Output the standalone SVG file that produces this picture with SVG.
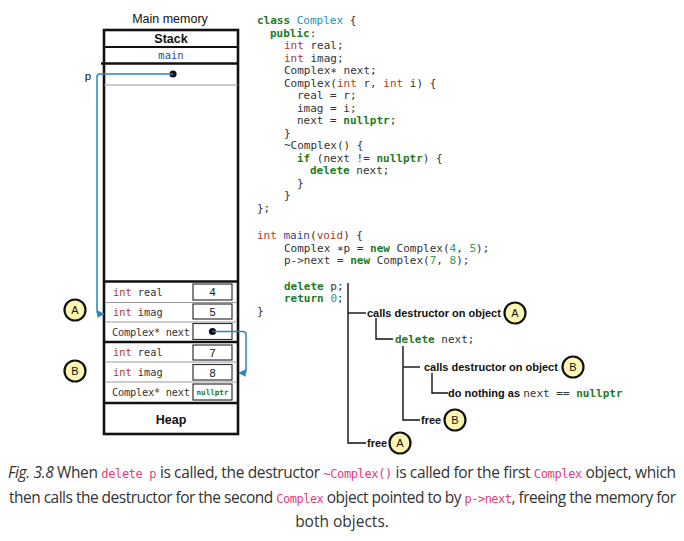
<svg xmlns="http://www.w3.org/2000/svg" width="684" height="541" viewBox="0 0 684 541">
  <style>
    .sans { font-family: "Liberation Sans", Arial, sans-serif; fill: #111; }
    .bold { font-weight: bold; }
    .mono { font-family: "DejaVu Sans Mono", monospace; }
    .code { font-family: "DejaVu Sans Mono", monospace; font-size: 11px; fill: #333; }
    .kw { fill: #1f7a1f; font-weight: bold; }
    .ty { fill: #b0391f; }
    .cls { fill: #2a8ac4; }
    .fn { fill: #2e48a0; }
    .num { fill: #3a9a5a; }
    .cell { font-family: "DejaVu Sans Mono", monospace; font-size: 10.3px; fill: #333; }
    .val { font-family: "Liberation Sans", Arial, sans-serif; font-size: 11px; fill: #111; }
    .vbox { fill: #fff; stroke: #333; stroke-width: 1.2; }
    .thick { stroke: #111; stroke-width: 2.6; fill: none; }
    .thin { stroke: #999; stroke-width: 1; fill: none; }
    .link { stroke: #2a86c0; stroke-width: 1.5; fill: none; }
    .tree { stroke: #111; stroke-width: 1.4; fill: none; }
    .badge circle { fill: #fdf6b2; stroke: #111; stroke-width: 2.2; }
    .badge text { font-family: "Liberation Sans", Arial, sans-serif; font-size: 11px; fill: #111; text-anchor: middle; }
    .note { font-family: "Liberation Sans", Arial, sans-serif; font-size: 11px; font-weight: bold; fill: #111; }
    .cap { font-family: "Open Sans", "Noto Sans", sans-serif; font-size: 15.5px; fill: #333; }
    .ic { font-family: "DejaVu Sans Mono", monospace; font-size: 12px; fill: #e0407e; }
  </style>
  <defs>
    <marker id="arrow" viewBox="0 0 10 10" refX="9" refY="5" markerWidth="5" markerHeight="5" orient="auto">
      <path d="M0,0 L10,5 L0,10 z" fill="#2a86c0"/>
    </marker>
    <g id="badgeA" class="badge"><circle r="10.5"/><text y="4">A</text></g>
    <g id="badgeB" class="badge"><circle r="10.5"/><text y="4">B</text></g>
  </defs>

  <!-- main memory block -->
  <g id="memory">
    <text class="sans" x="170" y="23" font-size="12.5" text-anchor="middle">Main memory</text>
    <rect x="104" y="30" width="134" height="404" fill="#fff" stroke="#111" stroke-width="2.6"/>
    <text class="sans bold" x="171" y="43" font-size="12.5" text-anchor="middle">Stack</text>
    <line x1="104" y1="47" x2="238" y2="47" stroke="#111" stroke-width="2"/>
    <text class="mono" x="171" y="58.5" font-size="10.5" fill="#2e48a0" text-anchor="middle">main</text>
    <line x1="101" y1="63.5" x2="238" y2="63.5" class="thick"/>
    <line x1="104" y1="85" x2="238" y2="85" class="thin"/>
    <text class="sans" x="88" y="80" font-size="11.5" text-anchor="middle">p</text>
    <circle cx="173" cy="74" r="3.6" fill="#111"/>
  </g>

  <!-- heap object A -->
  <g id="objA">
    <line x1="104" y1="281.5" x2="238" y2="281.5" class="thick"/>
    <line x1="106" y1="302.5" x2="236" y2="302.5" class="thin"/>
    <line x1="106" y1="322" x2="236" y2="322" class="thin"/>
    <text class="cell" x="113" y="296"><tspan class="ty">int</tspan> real</text>
    <text class="cell" x="113" y="316"><tspan class="ty">int</tspan> imag</text>
    <text class="cell" x="112" y="335.5" textLength="78">Complex* next</text>
    <rect class="vbox" x="193" y="284" width="39" height="16"/>
    <rect class="vbox" x="193" y="304" width="39" height="15"/>
    <rect class="vbox" x="193" y="323.5" width="39" height="16"/>
    <text class="val" x="212.5" y="296" text-anchor="middle">4</text>
    <text class="val" x="212.5" y="315.5" text-anchor="middle">5</text>
    <circle cx="212.5" cy="331.5" r="3.6" fill="#111"/>
  </g>

  <!-- heap object B -->
  <g id="objB">
    <line x1="104" y1="342" x2="238" y2="342" class="thick"/>
    <line x1="106" y1="362" x2="236" y2="362" class="thin"/>
    <line x1="106" y1="382" x2="236" y2="382" class="thin"/>
    <text class="cell" x="113" y="356"><tspan class="ty">int</tspan> real</text>
    <text class="cell" x="113" y="375.5"><tspan class="ty">int</tspan> imag</text>
    <text class="cell" x="112" y="395.5" textLength="78">Complex* next</text>
    <rect class="vbox" x="193" y="345" width="39" height="15"/>
    <rect class="vbox" x="193" y="364.5" width="39" height="15.5"/>
    <rect class="vbox" x="193" y="384" width="39" height="16"/>
    <text class="val" x="212.5" y="356.5" text-anchor="middle">7</text>
    <text class="val" x="212.5" y="376.5" text-anchor="middle">8</text>
    <text class="mono" x="212.5" y="395" font-size="7.6" font-weight="bold" fill="#1f7a1f" text-anchor="middle">nullptr</text>
  </g>

  <!-- heap label -->
  <g id="heap">
    <line x1="104" y1="403" x2="238" y2="403" class="thick"/>
    <text class="sans bold" x="171" y="424" font-size="12.5" text-anchor="middle">Heap</text>
  </g>

  <g id="labelA"><use href="#badgeA" x="75" y="310"/></g>
  <g id="labelB"><use href="#badgeB" x="75" y="371"/></g>

  <!-- pointers -->
  <g id="connectors">
    <path class="link" d="M173,74 H100 Q97,74 97,77 V311 Q97,314 100,314 H104" marker-end="url(#arrow)"/>
    <path class="link" d="M212.5,331.5 H243 Q246,331.5 246,334.5 V370 Q246,373 243,373 H239" marker-end="url(#arrow)"/>
  </g>

  <!-- source code -->
  <g id="code" class="code">
    <text x="257" y="24"><tspan class="kw">class</tspan> <tspan class="cls">Complex</tspan> {</text>
    <text x="270" y="36.5"><tspan class="kw">public</tspan>:</text>
    <text x="284" y="49"><tspan class="ty">int</tspan> real;</text>
    <text x="284" y="61.5"><tspan class="ty">int</tspan> imag;</text>
    <text x="284" y="74">Complex∗ next;</text>
    <text x="284" y="86.5">Complex(<tspan class="ty">int</tspan> r, <tspan class="ty">int</tspan> i) {</text>
    <text x="297" y="99">real = r;</text>
    <text x="297" y="111.5">imag = i;</text>
    <text x="297" y="124">next = <tspan class="kw">nullptr</tspan>;</text>
    <text x="284" y="136.5">}</text>
    <text x="284" y="149">~Complex() {</text>
    <text x="297" y="161.5"><tspan class="kw">if</tspan> (next != <tspan class="kw">nullptr</tspan>) {</text>
    <text x="310" y="174"><tspan class="kw">delete</tspan> next;</text>
    <text x="297" y="186.5">}</text>
    <text x="284" y="199">}</text>
    <text x="257" y="211.5">};</text>
    <text x="257" y="239"><tspan class="ty">int</tspan> <tspan class="fn">main</tspan>(<tspan class="ty">void</tspan>) {</text>
    <text x="284" y="251.5">Complex ∗p = <tspan class="kw">new</tspan> Complex(<tspan class="num">4</tspan>, <tspan class="num">5</tspan>);</text>
    <text x="284" y="264">p-&gt;next = <tspan class="kw">new</tspan> Complex(<tspan class="num">7</tspan>, <tspan class="num">8</tspan>);</text>
    <text x="284" y="289.5"><tspan class="kw">delete</tspan> p;</text>
    <text x="284" y="302"><tspan class="kw">return</tspan> <tspan class="num">0</tspan>;</text>
    <text x="257" y="314.5">}</text>
  </g>

  <!-- call sequence for delete p -->
  <g id="sequence">
    <path class="tree" d="M348,283 V443 H366"/>
    <path class="tree" d="M348,313 H366"/>
    <text class="note" x="367" y="317">calls destructor on object</text>
    <use href="#badgeA" x="515" y="313"/>
    <path class="tree" d="M376,318 V339 H393"/>
    <text class="code" x="395" y="343"><tspan class="kw">delete</tspan> next;</text>
    <path class="tree" d="M403,346 V420 H420"/>
    <path class="tree" d="M403,367 H420"/>
    <text class="note" x="424" y="371">calls destructor on object</text>
    <use href="#badgeB" x="573" y="367"/>
    <path class="tree" d="M432,373 V393 H448"/>
    <text class="note" x="448" y="397">do nothing as <tspan class="code" font-weight="normal">next == </tspan><tspan class="code kw">nullptr</tspan></text>
    <text class="note" x="421" y="424">free</text>
    <use href="#badgeB" x="455" y="420"/>
    <text class="note" x="367" y="447">free</text>
    <use href="#badgeA" x="400" y="443"/>
  </g>

  <!-- caption -->
  <g id="caption" class="cap">
    <text x="8" y="478" textLength="668" lengthAdjust="spacing"><tspan font-style="italic">Fig. 3.8</tspan> When <tspan class="ic">delete p</tspan> is called, the destructor <tspan class="ic">~Complex()</tspan> is called for the first <tspan class="ic">Complex</tspan> object, which</text>
    <text x="9" y="503" textLength="667" lengthAdjust="spacing">then calls the destructor for the second <tspan class="ic">Complex</tspan> object pointed to by <tspan class="ic">p-&gt;next</tspan>, freeing the memory for</text>
    <text x="342" y="527" text-anchor="middle">both objects.</text>
  </g>
</svg>
